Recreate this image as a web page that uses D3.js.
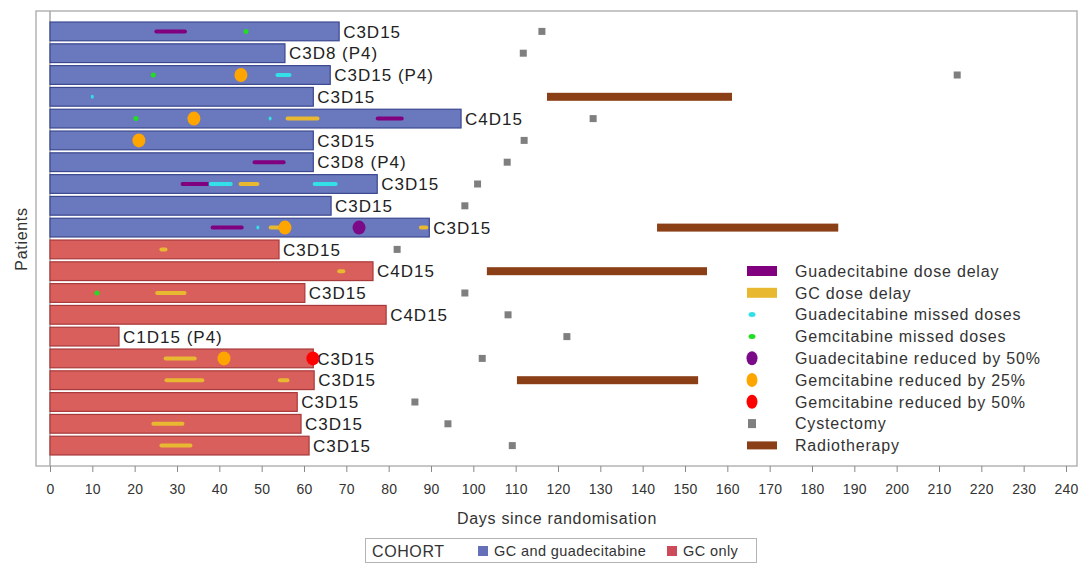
<!DOCTYPE html>
<html>
<head>
<meta charset="utf-8">
<script src="https://cdn.jsdelivr.net/npm/d3@7"></script>
<style>
  body { margin: 0; background: #fff; }
  svg { font-family: "Liberation Sans", Arial, sans-serif; }
</style>
</head>
<body>
<div id="chart"></div>
<script>
// Swimmer plot: treatment duration per patient with events

// patients, top to bottom
const patients = d3.range(1, 21).map(d => "P" + d);
const cohort = ["GC and guadecitabine","GC and guadecitabine","GC and guadecitabine","GC and guadecitabine","GC and guadecitabine",
                "GC and guadecitabine","GC and guadecitabine","GC and guadecitabine","GC and guadecitabine","GC and guadecitabine",
                "GC only","GC only","GC only","GC only","GC only","GC only","GC only","GC only","GC only","GC only"];
const duration = [68.3, 55.5, 66.2, 62.2, 97.1, 62.2, 62.2, 77.3, 66.4, 89.6,
                  54.1, 76.3, 60.2, 79.4, 16.3, 62.2, 62.4, 58.4, 59.3, 61.2];
const barLabels = ["C3D15","C3D8 (P4)","C3D15 (P4)","C3D15","C4D15","C3D15","C3D8 (P4)","C3D15","C3D15","C3D15",
                   "C3D15","C4D15","C3D15","C4D15","C1D15 (P4)","C3D15","C3D15","C3D15","C3D15","C3D15"];

// [patient index, start day, end day]
const guadDelay = [[0, 25, 32], [4, 77.3, 83.2], [6, 48.2, 55.3], [7, 31.2, 37.3], [9, 38.3, 45.4]];
const gcDelay = [[4, 56, 63.3], [7, 44.9, 49.1], [9, 52, 55], [9, 87.5, 89], [10, 26.2, 27.4], [11, 68.2, 69.4],
                 [12, 25.2, 31.9], [15, 27.2, 34.3], [16, 27.4, 36.1], [16, 54.2, 56.2], [18, 24.3, 31.4], [19, 26.2, 33.3]];
const guadMissed = [[2, 53.6, 56.7], [3, 10, 10], [4, 52, 52], [7, 37.8, 42.8], [7, 62.4, 67.6], [9, 49.1, 49.1]];
// [patient index, day]
const gemMissed = [[0, 46.3], [2, 24.4], [4, 20.3], [12, 11.1]];
const guadRed50 = [[9, 73]];
const gemRed25 = [[2, 45.1], [4, 34], [5, 21], [9, 55.5], [15, 41.1]];
const gemRed50 = [[15, 62.1]];
const cystectomy = [[0, 116.2], [1, 111.8], [2, 214.3], [4, 128.3], [5, 112], [6, 108], [7, 101], [8, 98],
                    [10, 82], [12, 98], [13, 108.2], [14, 122.1], [15, 102.1], [17, 86.2], [18, 94], [19, 109.2]];
const radiotherapy = [[3, 117.4, 161.1], [9, 143.4, 186.2], [11, 103.2, 155.2], [16, 110.3, 153.1]];

const xTicks = d3.range(0, 241, 10);
const eventLegend = ["Guadecitabine dose delay", "GC dose delay", "Guadecitabine missed doses", "Gemcitabine missed doses",
                     "Guadecitabine reduced by 50%", "Gemcitabine reduced by 25%", "Gemcitabine reduced by 50%",
                     "Cystectomy", "Radiotherapy"];
const cohorts = ["GC and guadecitabine", "GC only"];

const W = 1079, H = 563;
const frame = {left: 36, top: 11, right: 1077, bottom: 466};

const svg = d3.select("#chart").append("svg")
    .attr("width", W)
    .attr("height", H);

const x = d3.scaleLinear().domain([0, 240]).range([50, 1066]);
const y = d3.scaleBand().domain(patients).range([20.5, 456.5]).paddingInner(0.14).paddingOuter(0.07);

const cohortFill = d3.scaleOrdinal().domain(cohorts).range(["#6a78bd", "#d95f5c"]);
const cohortStroke = d3.scaleOrdinal().domain(cohorts).range(["#3b4890", "#a8393a"]);
const cohortSwatch = d3.scaleOrdinal().domain(cohorts).range(["#6570b8", "#cc4a5a"]);

const col = {
    guadDelay: "#800080", gcDelay: "#e8b830", guadMissed: "#33e0e8", gemMissed: "#22dd22",
    guadRed: "#7a0a88", gem25: "#ffa500", gem50: "#ff0000", cyst: "#7f7f7f", radio: "#8b3f17"
};

// frame
svg.append("rect")
    .attr("x", frame.left).attr("y", frame.top)
    .attr("width", frame.right - frame.left).attr("height", frame.bottom - frame.top)
    .attr("fill", "none").attr("stroke", "#b4b4b4").attr("stroke-width", 1.5);

svg.append("line")
    .attr("x1", x(0)).attr("x2", x(0)).attr("y1", frame.top).attr("y2", frame.bottom)
    .attr("stroke", "#a8a8a8").attr("stroke-width", 1.5);

// x axis
const xAxis = svg.append("g")
    .attr("transform", `translate(0,${frame.bottom})`)
    .call(d3.axisBottom(x).tickValues(xTicks).tickSize(6).tickPadding(12));
xAxis.select(".domain").remove();
xAxis.selectAll(".tick line").attr("stroke", "#888");
xAxis.selectAll(".tick text").attr("fill", "#333").style("font-size", "14px")
    .style("letter-spacing", "0.2px")
    .style("font-family", "\"Liberation Sans\", Arial, sans-serif");

svg.append("text")
    .attr("x", 557).attr("y", 524)
    .attr("text-anchor", "middle")
    .attr("fill", "#333").style("font-size", "16px").style("letter-spacing", "0.7px")
    .text("Days since randomisation");

svg.append("text")
    .attr("transform", "translate(27,239) rotate(-90)")
    .attr("text-anchor", "middle")
    .attr("fill", "#333").style("font-size", "16px").style("letter-spacing", "0.7px")
    .text("Patients");

// bars
svg.append("g").selectAll("rect")
    .data(patients)
    .join("rect")
    .attr("x", x(0))
    .attr("y", d => y(d))
    .attr("width", (d, i) => x(duration[i]) - x(0))
    .attr("height", y.bandwidth())
    .attr("fill", (d, i) => cohortFill(cohort[i]))
    .attr("stroke", (d, i) => cohortStroke(cohort[i]))
    .attr("stroke-width", 1.2);

svg.append("g").selectAll("text")
    .data(patients)
    .join("text")
    .attr("x", (d, i) => x(duration[i]) + 4)
    .attr("y", d => y(d) + y.bandwidth() / 2)
    .attr("dy", "0.36em")
    .attr("fill", "#222")
    .style("font-size", "17px").style("letter-spacing", "1px")
    .text((d, i) => barLabels[i]);

const cy = i => y(patients[i]) + y.bandwidth() / 2;

// event segments
function segments(data, color, h) {
    svg.append("g").selectAll("rect")
        .data(data)
        .join("rect")
        .attr("x", d => x(d[1]) - 1.5)
        .attr("y", d => cy(d[0]) - h / 2)
        .attr("width", d => x(d[2]) - x(d[1]) + 3)
        .attr("height", h)
        .attr("rx", h / 2)
        .attr("fill", color);
}
segments(guadDelay, col.guadDelay, 4);
segments(gcDelay, col.gcDelay, 4);
segments(guadMissed, col.guadMissed, 4);

function dots(data, color, rx, ry) {
    svg.append("g").selectAll("ellipse")
        .data(data)
        .join("ellipse")
        .attr("cx", d => x(d[1]))
        .attr("cy", d => cy(d[0]))
        .attr("rx", rx).attr("ry", ry)
        .attr("fill", color);
}
dots(gemMissed, col.gemMissed, 2.5, 2.5);
dots(guadRed50, col.guadRed, 6.5, 7);
dots(gemRed25, col.gem25, 6.5, 7);
dots(gemRed50, col.gem50, 6.5, 7);

svg.append("g").selectAll("rect")
    .data(cystectomy)
    .join("rect")
    .attr("x", d => x(d[1]) - 3.5)
    .attr("y", d => cy(d[0]) - 3.5)
    .attr("width", 7).attr("height", 7)
    .attr("fill", col.cyst);

svg.append("g").selectAll("rect")
    .data(radiotherapy)
    .join("rect")
    .attr("x", d => x(d[1]))
    .attr("y", d => cy(d[0]) - 4)
    .attr("width", d => x(d[2]) - x(d[1]))
    .attr("height", 8)
    .attr("fill", col.radio);

// event legend
const lg = svg.append("g");
const ly = i => 271 + i * 21.8;
const sx = 762;
eventLegend.forEach((name, i) => {
    const yy = ly(i);
    if (i === 0 || i === 1 || i === 8) {
        lg.append("rect").attr("x", sx - 15).attr("y", yy - (i === 8 ? 4 : 5))
            .attr("width", 30).attr("height", i === 8 ? 8 : 10)
            .attr("fill", [col.guadDelay, col.gcDelay, 0, 0, 0, 0, 0, 0, col.radio][i]);
    } else if (i === 2 || i === 3) {
        lg.append("ellipse").attr("cx", sx - 10).attr("cy", yy).attr("rx", 3.5).attr("ry", 2.5)
            .attr("fill", i === 2 ? col.guadMissed : col.gemMissed);
    } else if (i >= 4 && i <= 6) {
        lg.append("ellipse").attr("cx", sx - 10).attr("cy", yy).attr("rx", 5.5).attr("ry", 7)
            .attr("fill", [col.guadRed, col.gem25, col.gem50][i - 4]);
    } else {
        lg.append("rect").attr("x", sx - 14).attr("y", yy - 4.5).attr("width", 8).attr("height", 9)
            .attr("fill", col.cyst);
    }
    lg.append("text").attr("x", 795).attr("y", yy).attr("dy", "0.36em")
        .attr("fill", "#333").style("font-size", "16px").style("letter-spacing", "0.8px").text(name);
});

// cohort legend
const cl = svg.append("g");
cl.append("rect").attr("x", 365.5).attr("y", 538.5).attr("width", 391).attr("height", 24)
    .attr("fill", "none").attr("stroke", "#b4b4b4");
cl.append("text").attr("x", 372).attr("y", 551).attr("dy", "0.36em")
    .attr("fill", "#333").style("font-size", "16px").style("letter-spacing", "0.6px").text("COHORT");
const cx0 = [478, 667];
cohorts.forEach((c, i) => {
    cl.append("rect").attr("x", cx0[i]).attr("y", 546).attr("width", 10).attr("height", 10)
        .attr("fill", cohortSwatch(c));
    cl.append("text").attr("x", cx0[i] + 16).attr("y", 551).attr("dy", "0.36em")
        .attr("fill", "#333").style("font-size", "14.5px").style("letter-spacing", "0.4px").text(c);
});
</script>
</body>
</html>
